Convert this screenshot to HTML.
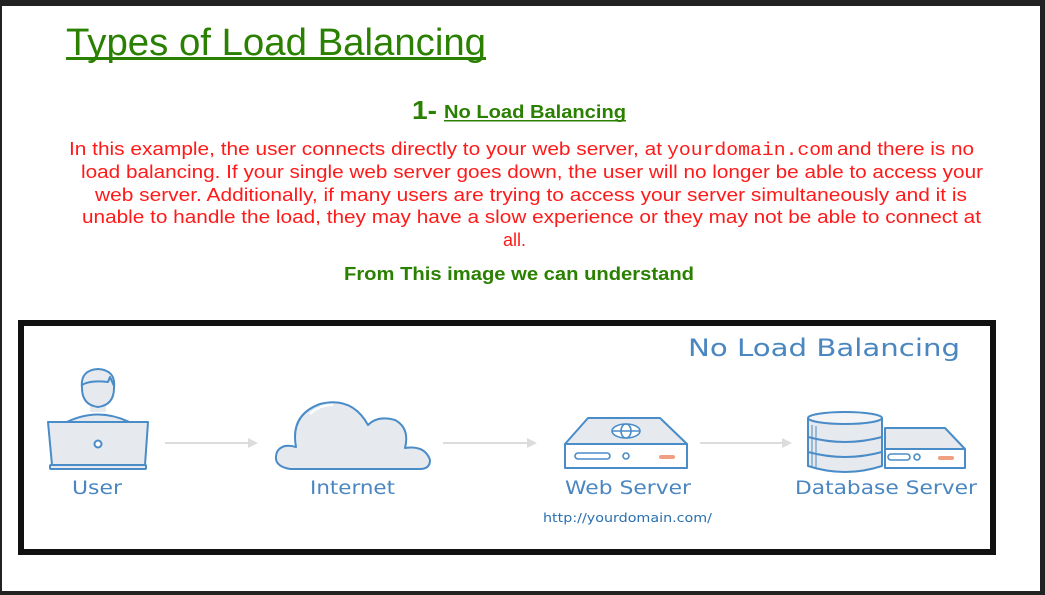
<!DOCTYPE html>
<html><head><meta charset="utf-8"><style>
html,body{margin:0;padding:0;background:#fff;}
svg{display:block;}
</style></head><body>
<svg width="1045" height="595" viewBox="0 0 1045 595" xmlns="http://www.w3.org/2000/svg">
<rect x="0" y="0" width="1045" height="595" fill="#fff"/>
<rect x="0" y="0" width="1045" height="6" fill="#222"/>
<rect x="0" y="0" width="2" height="595" fill="#222"/>
<rect x="1040" y="0" width="5" height="595" fill="#222"/>
<rect x="0" y="591" width="1045" height="4" fill="#222"/>

<g font-family="Liberation Sans, sans-serif">
<text x="66" y="55" font-size="38" fill="#2a8000" textLength="420" lengthAdjust="spacingAndGlyphs">Types of Load Balancing</text>
<rect x="66" y="57" width="420" height="3" fill="#2a8000"/>

<text x="412" y="119" font-size="26" font-weight="bold" fill="#2a8000" textLength="25" lengthAdjust="spacingAndGlyphs">1-</text>
<text x="444" y="118" font-size="18" font-weight="bold" fill="#2a8000" textLength="182" lengthAdjust="spacingAndGlyphs">No Load Balancing</text>
<rect x="444" y="120" width="182" height="1.5" fill="#2a8000"/>

<g font-size="18" fill="#ff1a1a">
<text x="69" y="155" textLength="593" lengthAdjust="spacingAndGlyphs">In this example, the user connects directly to your web server, at</text>
<text x="667" y="155" font-family="Liberation Mono, monospace" textLength="166" lengthAdjust="spacingAndGlyphs">yourdomain.com</text>
<text x="837" y="155" textLength="137" lengthAdjust="spacingAndGlyphs">and there is no</text>
<text x="81" y="178" textLength="902" lengthAdjust="spacingAndGlyphs">load balancing. If your single web server goes down, the user will no longer be able to access your</text>
<text x="95" y="201" textLength="872" lengthAdjust="spacingAndGlyphs">web server. Additionally, if many users are trying to access your server simultaneously and it is</text>
<text x="82" y="223" textLength="899" lengthAdjust="spacingAndGlyphs">unable to handle the load, they may have a slow experience or they may not be able to connect at</text>
<text x="503" y="246">all.</text>
</g>
<text x="344" y="280" font-size="18" font-weight="bold" fill="#2a8000" textLength="350" lengthAdjust="spacingAndGlyphs">From This image we can understand</text>
</g>

<!-- diagram frame -->
<rect x="21" y="323" width="972" height="229" fill="#fff" stroke="#111" stroke-width="6"/>

<g font-family="DejaVu Sans, Liberation Sans, sans-serif" fill="#4a86c0">
<text x="688" y="356" font-size="24" textLength="272" lengthAdjust="spacingAndGlyphs">No Load Balancing</text>
<text x="72" y="494" font-size="19" textLength="50" lengthAdjust="spacingAndGlyphs">User</text>
<text x="310" y="494" font-size="19" textLength="85" lengthAdjust="spacingAndGlyphs">Internet</text>
<text x="565" y="494" font-size="19" textLength="126" lengthAdjust="spacingAndGlyphs">Web Server</text>
<text x="795" y="494" font-size="19" textLength="182" lengthAdjust="spacingAndGlyphs">Database Server</text>
<text x="543" y="522" font-size="12" fill="#2a6fb0" textLength="169" lengthAdjust="spacingAndGlyphs">http://yourdomain.com/</text>
</g>

<!-- arrows -->
<g stroke="#dcdcdc" stroke-width="2" fill="#dcdcdc">
<line x1="165" y1="443" x2="250" y2="443"/><polygon points="248,438 258,443 248,448" stroke="none"/>
<line x1="443" y1="443" x2="529" y2="443"/><polygon points="527,438 537,443 527,448" stroke="none"/>
<line x1="700" y1="443" x2="784" y2="443"/><polygon points="782,438 792,443 782,448" stroke="none"/>
</g>

<g stroke="#4a8cc8" stroke-width="2" fill="#e6eaee" stroke-linejoin="round">
<!-- user -->
<path d="M63,424 Q98,405 133,424 Z"/>
<rect x="90" y="400" width="16" height="12" stroke="none"/>
<path d="M82,388 Q80,370 98,369 Q116,370 114,388 Q114,405 98,407 Q82,405 82,388 Z"/>
<path d="M82,385 Q90,380 108,382 L110,377 L114,386" fill="none"/>
<path d="M48,422 L148,422 L145,465 L52,465 Z"/>
<rect x="50" y="465" width="96" height="4" rx="1"/>
<circle cx="98" cy="444" r="3.5" fill="#fff"/>

<!-- cloud -->
<path d="M290,469 Q272,466 277,452 Q282,443 296,447 Q290,415 320,404 Q352,396 368,425 Q378,415 395,420 Q410,428 405,448 Q425,445 430,460 Q430,469 420,469 Z"/>
<path d="M310,414 Q320,405 333,405" fill="none" stroke="#fff"/>

<!-- web server -->
<path d="M588,418 L660,418 L687,444 L565,444 Z"/>
<rect x="565" y="444" width="122" height="24" fill="#fff"/>
<ellipse cx="626" cy="431" rx="14" ry="7" fill="#fff" stroke-width="1.6"/>
<ellipse cx="626" cy="431" rx="5" ry="7" fill="none" stroke-width="1.6"/>
<line x1="612" y1="431" x2="640" y2="431" stroke-width="1.6"/>
<rect x="575" y="453" width="35" height="6" rx="3" fill="#fff" stroke-width="1.6"/>
<circle cx="626" cy="456" r="3" fill="#fff" stroke-width="1.6"/>
<line x1="661" y1="457" x2="673" y2="457" stroke="#f0a080" stroke-width="4" stroke-linecap="round"/>

<!-- db server -->
<path d="M885,428 L945,428 L965,449 L885,449 Z"/>
<rect x="885" y="449" width="80" height="19" fill="#fff"/>
<rect x="888" y="454" width="22" height="6" rx="3" fill="#fff" stroke-width="1.6"/>
<circle cx="917" cy="457" r="3" fill="#fff" stroke-width="1.6"/>
<line x1="940" y1="458" x2="952" y2="458" stroke="#f0a080" stroke-width="4" stroke-linecap="round"/>
<path d="M808,418 L808,466 Q845,478 882,466 L882,418"/>
<path d="M808,437 Q845,447 882,437" fill="none"/>
<path d="M808,452 Q845,462 882,452" fill="none"/>
<ellipse cx="845" cy="418" rx="37" ry="6" fill="#f2f4f6"/>
<line x1="812" y1="425" x2="812" y2="468" stroke-width="1"/>
<line x1="816" y1="426" x2="816" y2="469" stroke-width="1"/>
</g>
</svg>
</body></html>
